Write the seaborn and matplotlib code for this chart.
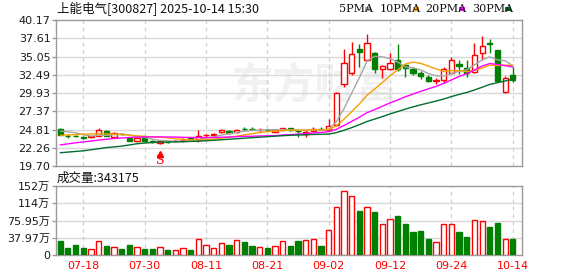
import matplotlib
matplotlib.use("Agg")
import matplotlib.pyplot as plt
from matplotlib.patches import Rectangle
import numpy as np
import pandas as pd
import seaborn as sns

# ---------------- data ----------------
dates = ["07-15", "07-16", "07-17", "07-18", "07-21", "07-22", "07-23", "07-24", "07-25", "07-28",
         "07-29", "07-30", "07-31", "08-01", "08-04", "08-05", "08-06", "08-07", "08-08", "08-11",
         "08-12", "08-13", "08-14", "08-15", "08-18", "08-19", "08-20", "08-21", "08-22", "08-25",
         "08-26", "08-27", "08-28", "08-29", "09-01", "09-02", "09-03", "09-04", "09-05", "09-08",
         "09-09", "09-10", "09-11", "09-12", "09-15", "09-16", "09-17", "09-18", "09-19", "09-22",
         "09-23", "09-24", "09-25", "09-26", "09-29", "09-30", "10-09", "10-10", "10-13", "10-14"]

opens = [24.90, 23.95, 23.95, 23.72, 23.75, 23.90, 24.64, 23.81, 24.22, 23.63,
         23.15, 23.60, 23.15, 22.89, 23.05, 23.15, 23.30, 23.58, 23.30, 24.00,
         24.10, 24.40, 24.60, 24.42, 24.95, 24.93, 24.75, 24.75, 24.45, 24.75,
         24.97, 24.65, 24.20, 24.60, 24.95, 24.80, 25.50, 31.20, 32.70, 36.10,
         34.60, 35.50, 33.26, 33.30, 34.56, 33.90, 33.30, 32.80, 32.20, 31.55,
         31.70, 32.80, 33.95, 33.40, 32.93, 35.50, 37.00, 35.95, 30.10, 32.47]
highs = [25.05, 24.20, 24.10, 23.90, 23.95, 24.97, 24.80, 24.40, 24.35, 23.70,
         23.65, 23.65, 23.30, 23.35, 23.15, 23.30, 23.60, 23.65, 24.75, 24.25,
         24.30, 24.85, 24.70, 24.85, 25.15, 25.15, 25.00, 24.90, 24.80, 25.05,
         25.05, 24.85, 24.80, 25.10, 25.10, 26.30, 30.05, 36.10, 37.10, 36.74,
         38.27, 35.67, 33.80, 35.60, 36.74, 34.00, 33.55, 33.05, 32.40, 32.10,
         33.62, 35.00, 34.56, 34.56, 36.90, 37.94, 37.44, 36.00, 32.30, 33.62]
lows = [24.00, 23.60, 23.70, 23.50, 23.65, 23.85, 23.85, 23.75, 24.00, 23.20,
        23.10, 23.20, 22.95, 22.85, 22.90, 23.10, 23.10, 23.30, 23.10, 23.80,
        24.05, 24.35, 24.20, 24.30, 24.70, 24.75, 24.55, 24.55, 24.40, 24.70,
        24.65, 23.70, 23.80, 24.55, 24.75, 24.70, 25.30, 30.80, 32.50, 33.62,
        34.40, 32.75, 32.00, 33.10, 33.00, 32.23, 32.40, 31.95, 31.50, 31.20,
        31.40, 32.70, 32.60, 32.14, 32.80, 34.56, 35.49, 31.60, 30.00, 31.50]
closes = [24.10, 23.90, 23.88, 23.65, 23.85, 24.74, 23.90, 24.28, 24.15, 23.25,
          23.60, 23.25, 23.08, 23.25, 23.00, 23.25, 23.38, 23.35, 23.85, 24.10,
          24.20, 24.68, 24.30, 24.72, 24.88, 24.87, 24.80, 24.70, 24.70, 24.97,
          24.70, 24.55, 24.50, 24.90, 24.88, 25.25, 30.00, 34.10, 35.40, 35.70,
          36.90, 33.30, 33.72, 34.20, 33.30, 33.40, 32.70, 32.25, 31.65, 31.70,
          33.26, 34.56, 33.75, 32.70, 35.27, 36.50, 36.80, 31.68, 32.05, 31.80]

# volume in 万 (10k shares)
volumes = [30.8, 15.4, 22.0, 15.4, 12.5, 30.0, 20.0, 17.6, 13.2, 22.0,
           17.6, 13.2, 13.2, 17.6, 11.0, 10.3, 15.4, 11.0, 34.5, 21.5,
           15.0, 25.6, 22.0, 32.0, 28.6, 19.5, 17.2, 15.6, 19.5, 30.5,
           20.0, 30.8, 32.3, 34.5, 19.8, 54.3, 105.0, 140.0, 130.0, 98.0,
           105.0, 94.7, 68.3, 78.5, 85.9, 68.3, 50.6, 52.8, 35.2, 28.6,
           68.3, 68.3, 50.6, 39.6, 76.3, 74.1, 60.9, 70.5, 34.5, 34.3175]

ma5 = [24.60, 24.50, 24.35, 24.10, 23.88, 24.01, 24.00, 24.08, 24.18, 24.06,
       23.84, 23.70, 23.47, 23.29, 23.24, 23.17, 23.19, 23.25, 23.41, 23.59,
       23.78, 24.04, 24.23, 24.40, 24.56, 24.69, 24.71, 24.79, 24.79, 24.81,
       24.77, 24.72, 24.68, 24.72, 24.71, 24.82, 25.92, 27.75, 29.93, 32.09,
       34.42, 35.08, 35.00, 34.76, 34.28, 33.58, 33.46, 33.17, 32.66, 32.34,
       32.31, 32.66, 32.98, 33.19, 33.89, 34.56, 35.00, 34.59, 34.46, 33.77]
ma10 = [24.00, 24.05, 24.10, 24.15, 24.20, 24.22, 24.20, 24.18, 24.12, 24.02,
        23.92, 23.86, 23.78, 23.74, 23.65, 23.50, 23.45, 23.36, 23.33, 23.41,
        23.47, 23.61, 23.74, 23.88, 24.07, 24.23, 24.38, 24.51, 24.60, 24.68,
        24.73, 24.72, 24.74, 24.76, 24.76, 24.80, 25.32, 26.26, 27.33, 28.40,
        29.62, 30.49, 31.42, 32.35, 33.19, 34.00, 34.27, 34.09, 33.71, 33.31,
        32.95, 33.07, 33.08, 32.93, 33.12, 33.43, 33.84, 33.79, 33.83, 33.84]
ma20 = [22.65, 22.80, 22.95, 23.08, 23.20, 23.33, 23.45, 23.55, 23.63, 23.70,
        23.75, 23.77, 23.78, 23.78, 23.77, 23.75, 23.72, 23.70, 23.69, 23.69,
        23.70, 23.73, 23.76, 23.81, 23.86, 23.87, 23.91, 23.93, 23.96, 24.05,
        24.10, 24.17, 24.24, 24.32, 24.41, 24.51, 24.85, 25.38, 25.96, 26.54,
        27.18, 27.61, 28.08, 28.55, 28.97, 29.40, 29.79, 30.17, 30.52, 30.86,
        31.28, 31.78, 32.25, 32.64, 33.16, 33.72, 34.06, 33.94, 33.77, 33.57]
ma30 = [21.56, 21.65, 21.74, 21.83, 21.97, 22.12, 22.28, 22.38, 22.48, 22.65,
        22.82, 22.92, 23.00, 23.04, 23.06, 23.08, 23.10, 23.14, 23.18, 23.24,
        23.30, 23.38, 23.45, 23.52, 23.60, 23.67, 23.74, 23.81, 23.88, 23.95,
        24.00, 24.04, 24.07, 24.12, 24.15, 24.18, 24.38, 24.71, 25.08, 25.50,
        25.94, 26.28, 26.63, 27.00, 27.34, 27.68, 27.99, 28.28, 28.54, 28.80,
        29.10, 29.43, 29.74, 30.01, 30.36, 30.74, 31.14, 31.38, 31.62, 31.85]

price_ticks = [19.70, 22.26, 24.81, 27.37, 29.93, 32.49, 35.05, 37.61, 40.17]
vol_ticks = [0, 37.97, 75.95, 114, 152]
vol_tick_labels = ["0", "37.97万", "75.95万", "114万", "152万"]
date_ticks = ["07-18", "07-30", "08-11", "08-21", "09-02", "09-12", "09-24", "10-14"]
signal_date = "08-01"
stock_title = "上能电气[300827] 2025-10-14 15:30"
vol_title = "成交量:343175"
ma_names = ["5PMA", "10PMA", "20PMA", "30PMA"]

# ---------------- style ----------------
sns.set_theme(style="white")
plt.rcParams["font.family"] = ["DejaVu Sans", "Noto Sans CJK SC"]

RED = "#ff0000"
GREEN = "#008000"
MA_COLORS = ["#a6a6a6", "#f5a000", "#ff00ff", "#006e2e"]
GRID = "#d8d8d8"
FRAME = "#9a9a9a"

df = pd.DataFrame({"date": dates, "open": opens, "high": highs, "low": lows,
                   "close": closes, "vol": volumes,
                   "ma5": ma5, "ma10": ma10, "ma20": ma20, "ma30": ma30})
df["x"] = np.arange(len(df))
df["up"] = df["close"] >= df["open"]

W, H = 578, 276
fig = plt.figure(figsize=(W / 100, H / 100), dpi=100)
fig.patch.set_facecolor("white")
ax = fig.add_axes([56 / W, 1 - 166 / H, 466 / W, 146 / H])
axv = fig.add_axes([56 / W, 1 - 255 / H, 466 / W, 69 / H])

xlim = (-0.55, len(df) - 1 + 1.2)
tick_pos = [dates.index(d) for d in date_ticks]

for a in (ax, axv):
    a.set_facecolor("white")
    a.set_xlim(*xlim)
    for s in a.spines.values():
        s.set_color(FRAME)
        s.set_linewidth(1)
    for p in tick_pos:
        a.axvline(p, color="#cfcfcf", lw=0.9, ls=(0, (3, 3)), zorder=0.5)

# watermark (behind everything in the price panel)
ax.text(0.545, 0.69, "东方财富", fontsize=30, color="#f1f1f1", fontweight="bold",
        family=["Noto Sans CJK SC"], ha="center", va="center", zorder=0.2,
        transform=fig.transFigure)

# ---------------- price panel ----------------
ax.set_ylim(price_ticks[0], price_ticks[-1])
ax.set_yticks(price_ticks)
ax.set_yticklabels([f"{v:.2f}" for v in price_ticks], fontsize=8, color="#1a1a1a")
for v in price_ticks[1:-1]:
    ax.axhline(v, color=GRID, lw=1, zorder=0.4)
ax.set_xticks([])
ax.tick_params(axis="y", length=3, width=1, color=FRAME, pad=1, left=True)

body_w = 0.68
face = np.where(df["up"], "white", GREEN)
edge = np.where(df["up"], RED, GREEN)
top = np.maximum(df["open"], df["close"])
bot = np.minimum(df["open"], df["close"])
height = np.maximum(top - bot, 0.04)
ax.vlines(df["x"], df["low"], df["high"], colors=edge, lw=1, zorder=2)
ax.bar(df["x"], height, bottom=bot, width=body_w, color=face, edgecolor=edge,
       linewidth=1, zorder=3)

for col, c in zip(["ma5", "ma10", "ma20", "ma30"], MA_COLORS):
    sns.lineplot(data=df, x="x", y=col, ax=ax, color=c, lw=1, legend=False, zorder=4)
ax.set_xlabel("")
ax.set_ylabel("")

# signal marker
sx = dates.index(signal_date)
ax.plot([sx], [21.45], marker="^", color=RED, markersize=4, zorder=5)
ax.text(sx, 20.45, "S", color=RED, fontsize=9, ha="center", va="center",
        family=["DejaVu Serif"], zorder=5)

# ---------------- volume panel ----------------
axv.set_ylim(0, vol_ticks[-1])
axv.set_yticks(vol_ticks)
axv.set_yticklabels(vol_tick_labels, fontsize=8, color="#1a1a1a")
for v in vol_ticks[1:-1]:
    axv.axhline(v, color=GRID, lw=1, zorder=0.4)
axv.tick_params(axis="y", length=3, width=1, color=FRAME, pad=1, left=True)
axv.bar(df["x"], df["vol"], width=body_w, color=face, edgecolor=edge, linewidth=1, zorder=3)
axv.set_xticks(tick_pos)
axv.set_xticklabels(date_ticks, fontsize=8, color=RED)
axv.tick_params(axis="x", length=0, pad=4)

# ---------------- texts ----------------
fig.text(57 / W, 1 - 9 / H, stock_title, fontsize=9, color="#111111",
         family=["Noto Sans CJK SC", "DejaVu Sans"], va="center", ha="left")
fig.text(57 / W, 1 - 178 / H, vol_title, fontsize=9, color="#111111",
         family=["Noto Sans CJK SC", "DejaVu Sans"], va="center", ha="left")

leg_x = [339, 380, 425, 472]
sq_x = [368, 416, 462, 508]
for name, c, lx, qx in zip(ma_names, MA_COLORS, leg_x, sq_x):
    fig.text(lx / W, 1 - 9 / H, name, fontsize=8, color="#111111", family=["DejaVu Serif"],
             va="center", ha="left")
    fig.add_artist(Rectangle(((qx - 3) / W, 1 - 11 / H), 6 / W, 4 / H,
                             transform=fig.transFigure, facecolor=c, edgecolor="none"))

fig.savefig("out.png", dpi=100, facecolor="white")
